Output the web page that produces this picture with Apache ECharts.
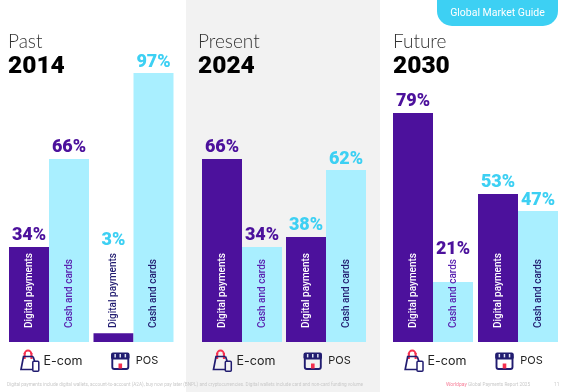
<!DOCTYPE html>
<html><head><meta charset="utf-8">
<style>html,body{margin:0;padding:0;background:#fff}#c{width:565px;height:392px}</style>
<script src="https://cdn.jsdelivr.net/npm/echarts@6/dist/echarts.min.js"></script>
</head><body><div id="c"></div>
<script>
const channels = ['E-com', 'POS'];
const seriesNames = ['Digital payments', 'Cash and cards'];
const panelLabels = ['Past', 'Present', 'Future'];
const panelYears = ['2014', '2024', '2030'];

// percentages printed above the bars [E-com, POS]
const printedDigital2014 = [34, 3];
const printedCash2014 = [66, 97];
const printedDigital2024 = [66, 38];
const printedCash2024 = [34, 62];
const printedDigital2030 = [79, 53];
const printedCash2030 = [21, 47];

// bar lengths, in the same percent scale
const barDigital2014 = [34.3, 3.2];
const barCash2014 = [66, 97];
const barDigital2024 = [66, 37.9];
const barCash2024 = [34.3, 62];
const barDigital2030 = [82.6, 53.4];
const barCash2030 = [21.6, 47.2];

const footnote = 'Digital payments include digital wallets, account-to-account (A2A), buy now pay later (BNPL) and cryptocurrencies. Digital wallets include card and non-card funding volume';
const footerBrand = 'Worldpay';
const footerReport = 'Global Payments Report 2025';
const footerPage = '11';
const tabText = 'Global Market Guide';

const PURPLE = '#4c119c', CYAN = '#3dd0f3', LIGHT = '#a9efff', NAVY = '#211c70', RED = '#f5304f';
const MAIN = 'Roboto';

const panels = [
  {left: 6.75, width: 169, titleX: 8, digital: barDigital2014, cash: barCash2014, pd: printedDigital2014, pc: printedCash2014, dx: 0, bg: '#fff'},
  {left: 200, width: 168, titleX: 198, digital: barDigital2024, cash: barCash2024, pd: printedDigital2024, pc: printedCash2024, dx: 192.5, bg: '#f2f2f2'},
  {left: 390.5, width: 170, titleX: 393, digital: barDigital2030, cash: barCash2030, pd: printedDigital2030, pc: printedCash2030, dx: 384.2, bg: '#fff'}
];

const grid = [], xAxis = [], yAxis = [], series = [], title = [];
const pctColor = i => i === 0 ? PURPLE : CYAN;
// short bars: the printed value sits above the rotated series name
const labelRaise = v => v < 10 ? -82 : v < 25 ? -22 : 0;

panels.forEach((p, k) => {
  grid.push({left: p.left, width: p.width, top: 64.7, height: 277.3});
  xAxis.push({type: 'category', gridIndex: k, data: channels,
    axisLine: {show: false}, axisTick: {show: false},
    axisLabel: {color: '#222', margin: 13,
      formatter: v => v === channels[0] ? '{e|' + v + '}' : '{p|' + v + '}',
      rich: {
        e: {fontFamily: 'Inter', fontSize: 12.5, color: '#222', padding: [0, 0, 0, 28]},
        p: {fontFamily: 'Inter', fontSize: 11, color: '#222', padding: [0, 0, 0, 27]}
      }}});
  yAxis.push({type: 'value', gridIndex: k, min: 0, max: 100, show: false, splitLine: {show: false}});

  const bar = (name, stack, vals, itemColor, textColor) => ({
    type: 'bar', name, stack, xAxisIndex: k, yAxisIndex: k, barWidth: 40, barGap: '0%',
    itemStyle: {color: itemColor}, silent: true,
    data: vals.map((v, i) => ({value: v, label: {color: textColor(i, v)}})),
    label: {show: true, formatter: name, position: 'insideBottom', distance: 14, rotate: 90,
      align: 'left', verticalAlign: 'middle', fontFamily: MAIN, fontSize: 10, fontWeight: 500}
  });
  const cap = (stack, printed) => ({
    type: 'bar', name: stack + ' value', stack, xAxisIndex: k, yAxisIndex: k, barWidth: 40, barGap: '0%',
    itemStyle: {color: 'transparent'}, silent: true,
    data: printed.map((v, i) => ({value: 0, label: {formatter: v + '%', color: pctColor(i), offset: [0, labelRaise(v)]}})),
    label: {show: true, position: 'top', distance: 2, fontFamily: MAIN, fontSize: 18, fontWeight: 900}
  });
  const dStack = 'digital' + k, cStack = 'cash' + k;
  series.push(bar(seriesNames[0], dStack, p.digital, PURPLE, (i, v) => v < 10 ? NAVY : '#fff'));
  series.push(cap(dStack, p.pd));
  series.push(bar(seriesNames[1], cStack, p.cash, LIGHT, i => i === 0 ? '#5a22b0' : NAVY));
  series.push(cap(cStack, p.pc));

  title.push({text: panelLabels[k], subtext: panelYears[k], left: p.titleX, top: 31, itemGap: 2, padding: 0,
    textStyle: {fontFamily: 'Lato', fontWeight: 300, fontSize: 19, color: '#333', lineHeight: 22},
    subtextStyle: {fontFamily: MAIN, fontWeight: 900, fontSize: 24.5, color: '#000', lineHeight: 24}});
});

function bagIcon(dx, bg) {
  return {type: 'group', x: dx, y: 0, children: [
    {type: 'arc', shape: {cx: 28, cy: 354, r: 3.4, startAngle: Math.PI, endAngle: 0, clockwise: true}, style: {stroke: RED, lineWidth: 2, fill: null}},
    {type: 'rect', shape: {x: 24.6, y: 354, width: 0.1, height: 4}, style: {stroke: RED, lineWidth: 2}},
    {type: 'rect', shape: {x: 31.4, y: 354, width: 0.1, height: 4}, style: {stroke: RED, lineWidth: 2}},
    {type: 'polyline', shape: {points: [[33, 356.5], [23.5, 356.5], [21, 369.5], [34, 369.5]]}, style: {stroke: NAVY, lineWidth: 1.7, fill: null}},
    {type: 'polyline', shape: {points: [[33, 356.5], [34.6, 361]]}, style: {stroke: NAVY, lineWidth: 1.7, fill: null}},
    {type: 'rect', shape: {x: 32.8, y: 361.3, width: 6, height: 10, r: 1}, style: {stroke: NAVY, lineWidth: 1.5, fill: bg}}
  ]};
}
function storeIcon(dx, bg) {
  return {type: 'group', x: dx, y: 0, children: [
    {type: 'rect', shape: {x: 112.3, y: 354, width: 16, height: 15, r: 2}, style: {stroke: NAVY, lineWidth: 1.9, fill: bg}},
    {type: 'rect', shape: {x: 111, y: 352.5, width: 18.5, height: 7, r: [2, 2, 2, 2]}, style: {fill: NAVY}},
    {type: 'rect', shape: {x: 114.4, y: 354, width: 1.5, height: 3.4}, style: {fill: '#dfe3f5'}},
    {type: 'rect', shape: {x: 119.5, y: 354, width: 1.5, height: 3.4}, style: {fill: '#dfe3f5'}},
    {type: 'rect', shape: {x: 124.6, y: 354, width: 1.5, height: 3.4}, style: {fill: '#dfe3f5'}},
    {type: 'rect', shape: {x: 118.5, y: 363.5, width: 3.6, height: 5}, style: {fill: RED}}
  ]};
}
const footStyle = {fontFamily: MAIN, fontSize: 4.7, fill: '#c9c9c9', verticalAlign: 'middle'};
const graphic = [
  {type: 'rect', z: -10, shape: {x: 186, y: 0, width: 194, height: 392}, style: {fill: '#f2f2f2'}},
  {type: 'rect', shape: {x: 437, y: -20, width: 121, height: 46, r: 15}, style: {fill: CYAN}},
  {type: 'text', x: 497.5, y: 13.5, style: {text: tabText, fontFamily: MAIN, fontSize: 10.5, fill: '#fff', align: 'center', verticalAlign: 'middle'}},
  {type: 'text', x: 7, y: 385, style: {...footStyle, text: footnote}},
  {type: 'text', x: 446, y: 385, style: {...footStyle, text: footerBrand, fill: '#f7809a', fontSize: 5}},
  {type: 'text', x: 468, y: 385, style: {...footStyle, text: footerReport}},
  {type: 'text', x: 554, y: 385, style: {...footStyle, text: footerPage}}
];
panels.forEach(p => { graphic.push(bagIcon(p.dx, p.bg)); graphic.push(storeIcon(p.dx, p.bg)); });

const chart = echarts.init(document.getElementById('c'), null, {renderer: 'canvas'});
chart.setOption({animation: false, backgroundColor: '#fff', title, grid, xAxis, yAxis, series, graphic, tooltip: {show: false}, legend: {show: false}});
</script></body></html>
